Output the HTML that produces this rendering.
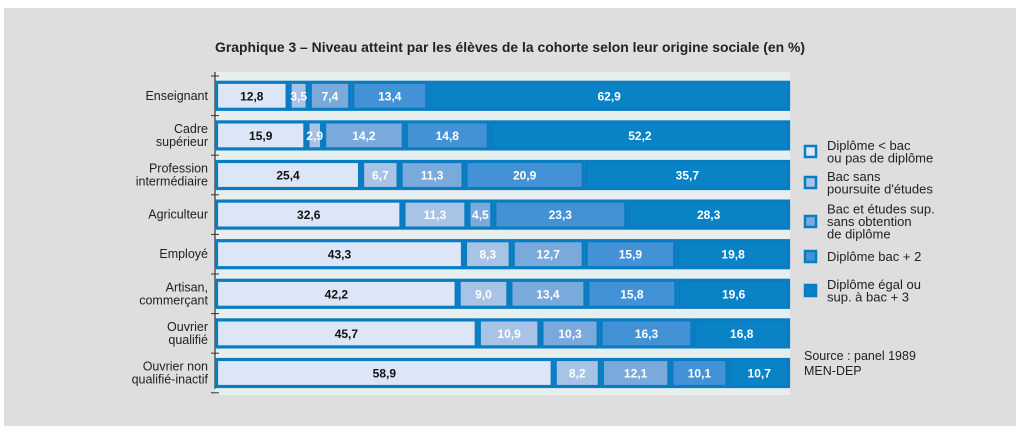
<!DOCTYPE html>
<html><head><meta charset="utf-8"><style>
body{margin:0;background:#fff;}
svg{display:block;font-family:"Liberation Sans",sans-serif;}
</style></head><body>
<svg width="1021" height="443">
<rect x="4" y="8" width="1012" height="418" fill="#dedede"/>
<text x="510" y="52" text-anchor="middle" font-size="14" font-weight="bold" fill="#222" textLength="590" lengthAdjust="spacingAndGlyphs">Graphique 3 – Niveau atteint par les élèves de la cohorte selon leur origine sociale (en %)</text>
<rect x="215" y="72" width="575" height="323" fill="#e6eeee"/>
<g id="bars"></g>
<g id="legend"></g>
<text x="804" y="360" font-size="12.5" fill="#222">Source : panel 1989</text>
<text x="804" y="375" font-size="12.5" fill="#222">MEN-DEP</text>
</svg>
<script>
const categories=[["Enseignant"],["Cadre","supérieur"],["Profession","intermédiaire"],["Agriculteur"],["Employé"],["Artisan,","commerçant"],["Ouvrier","qualifié"],["Ouvrier non","qualifié-inactif"]];
const s1=[12.8,15.9,25.4,32.6,43.3,42.2,45.7,58.9];
const s2=[3.5,2.9,6.7,11.3,8.3,9.0,10.9,8.2];
const s3=[7.4,14.2,11.3,4.5,12.7,13.4,10.3,12.1];
const s4=[13.4,14.8,20.9,23.3,15.9,15.8,16.3,10.1];
const s5=[62.9,52.2,35.7,28.3,19.8,19.6,16.8,10.7];
const seriesNames=[["Diplôme < bac","ou pas de diplôme"],["Bac sans","poursuite d'études"],["Bac et études sup.","sans obtention","de diplôme"],["Diplôme bac + 2"],["Diplôme égal ou","sup. à bac + 3"]];
const colors=["#dde6f6","#a9c3e6","#7aaadc","#4292d5","#0a82c6"];
const NS="http://www.w3.org/2000/svg";
const x0=215,W=575,y0=72,rowH=39.6,barH=27;
const xs=v=>v/100*W;
const rowY=i=>y0+i*rowH+rowH/2+4;
const g=document.getElementById('bars');
function mk(t,a){const e=document.createElementNS(NS,t);for(const k in a)e.setAttribute(k,a[k]);return e;}
const all=[s1,s2,s3,s4,s5];
const ax=mk('line',{x1:x0,x2:x0,y1:y0,y2:y0+8*rowH,stroke:'#333','stroke-width':1.2});


g.appendChild(ax);
for(let i=0;i<=8;i++){const y=y0+i*rowH+4;const t=mk('line',{x1:x0-4,x2:x0+4,y1:y,y2:y,stroke:'#333'});


g.appendChild(t);}
categories.forEach((c,i)=>{
 const cy=rowY(i);
 c.forEach((ln,j)=>{const t=mk('text',{x:208,y:cy+4+(j-(c.length-1)/2)*13,'text-anchor':'end','font-size':12.5,fill:'#222'});t.textContent=ln;
 
 
 g.appendChild(t);});
 let acc=0;
 all.forEach((s,k)=>{
  const v=s[i];const x=x0+xs(acc)+1.5,w=xs(v)-3;
  const r=mk('rect',{x:x,y:cy-barH/2,width:Math.max(w,0.5),height:barH,fill:colors[k],stroke:'#0a7cc2','stroke-width':3.2});
  
  
  g.appendChild(r);
  const t=mk('text',{x:x0+xs(acc+v/2),y:cy+4.5,'text-anchor':'middle','font-size':12,'font-weight':'bold',fill:k==0?'#111':'#fff'});
  t.textContent=v.toFixed(1).replace('.',',');
  
  
  g.appendChild(t);
  acc+=v;
 });
});
const lg=document.getElementById('legend');
const ly=[152,183,222,257,291];
seriesNames.forEach((n,k)=>{
 const y=ly[k];
 const r=mk('rect',{x:805,y:y-6,width:11,height:11,fill:colors[k],stroke:'#0a7cc2','stroke-width':2.5});
 
 
 lg.appendChild(r);
 n.forEach((ln,j)=>{const t=mk('text',{x:827,y:y+4+(j-(n.length-1)/2)*12.5,'font-size':13,fill:'#222'});t.textContent=ln;
 
 
 lg.appendChild(t);});
});
</script>
</body></html>
